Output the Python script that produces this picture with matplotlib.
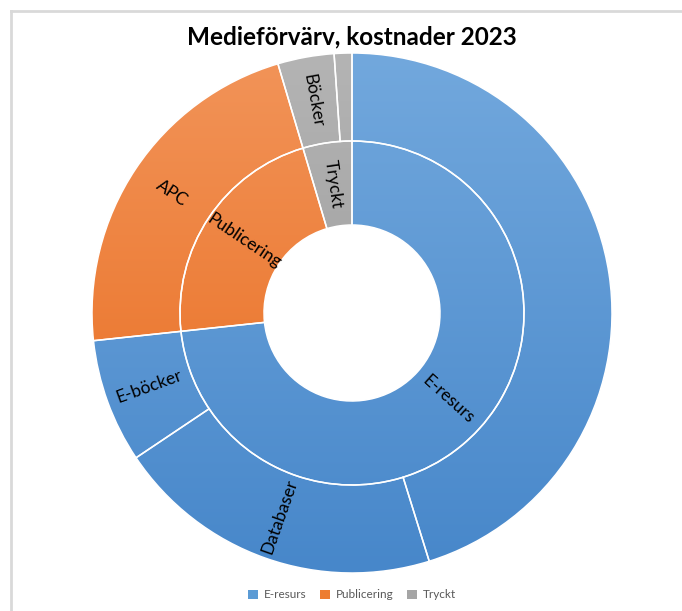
import numpy as np
import matplotlib.pyplot as plt
from matplotlib.patches import Wedge, Patch
from matplotlib.colors import to_rgb

# data (andel i procent)
inner_labels = ['E-resurs', 'Publicering', 'Tryckt']
outer_labels = ['', 'Databaser', 'E-böcker', 'APC', 'Böcker', '']
outer_values = [45.2, 20.4, 7.7, 22.1, 3.5, 1.1]
outer_parent = [0, 0, 0, 1, 2, 2]

inner_values = [sum(v for v, p in zip(outer_values, outer_parent) if p == i)
                for i in range(len(inner_labels))]

# gradient colours per group (top, bottom)
grad = [('#72A8DD', '#4787CA'), ('#F29459', '#E8691A'), ('#B4B4B4', '#939393')]
legend_cols = ['#5B9BD5', '#ED7D31', '#A5A5A5']

W, H = 682, 611
fig = plt.figure(figsize=(W / 100, H / 100), dpi=100)
ax = fig.add_axes([0, 0, 1, 1])
ax.set_xlim(0, W)
ax.set_ylim(0, H)
ax.axis('off')

cx, cy = 352, H - 313
r_hole, r_mid, r_out = 88, 172, 260


def gradient_img(c_top, c_bot, n=256):
    t = np.linspace(0, 1, n)[:, None]
    a, b = np.array(to_rgb(c_top)), np.array(to_rgb(c_bot))
    return (a * (1 - t) + b * t)[:, None, :]


def draw_ring(values, groups, labels, r_in, r_o):
    total = sum(outer_values)
    start = 0.0
    for v, g, lab in zip(values, groups, labels):
        end = start + v
        t1 = 90 - 360 * end / total
        t2 = 90 - 360 * start / total
        w = Wedge((cx, cy), r_o, t1, t2, width=r_o - r_in,
                  facecolor='none', edgecolor='none')
        ax.add_patch(w)
        im = ax.imshow(gradient_img(*grad[g]), extent=(cx - r_out, cx + r_out, cy - r_out, cy + r_out),
                       origin='upper', aspect='auto', zorder=1, interpolation='bilinear')
        im.set_clip_path(w)
        edge = Wedge((cx, cy), r_o, t1, t2, width=r_o - r_in,
                     facecolor='none', edgecolor='white', linewidth=1.1, zorder=2)
        ax.add_patch(edge)
        if lab:
            mid = np.deg2rad((t1 + t2) / 2)
            rr = (r_in + r_o) / 2
            rot = np.rad2deg(mid) % 360
            if 90 < rot < 270:
                rot -= 180
            ax.text(cx + rr * np.cos(mid), cy + rr * np.sin(mid), lab,
                    rotation=rot, rotation_mode='anchor', ha='center', va='center',
                    fontsize=12.5, family='Lato', color='black', zorder=3)
        start = end


draw_ring(inner_values, [0, 1, 2], inner_labels, r_hole, r_mid)
draw_ring(outer_values, outer_parent, outer_labels, r_mid, r_out)

ax.set_xlim(0, W)
ax.set_ylim(0, H)

fig.text(352 / W, 1 - 37 / H, 'Medieförvärv, kostnader 2023', ha='center', va='center',
         fontsize=17.5, fontweight='bold', family='Lato')

handles = [Patch(facecolor=c, edgecolor='none') for c in legend_cols]
fig.legend(handles, inner_labels, loc='center', bbox_to_anchor=(352 / W, 1 - 595 / H),
           ncol=3, frameon=False, handlelength=0.8, handleheight=0.8,
           handletextpad=0.5, columnspacing=1.2, labelcolor='#595959',
           prop={'family': 'Lato', 'size': 8.5})

# chart frame (top and left edges visible)
fig.add_artist(plt.Line2D([11 / W, 1], [1 - 11 / H, 1 - 11 / H], color='#D9D9D9', lw=2,
                          transform=fig.transFigure))
fig.add_artist(plt.Line2D([11 / W, 11 / W], [0, 1 - 11 / H], color='#D9D9D9', lw=2,
                          transform=fig.transFigure))

fig.savefig('out.png', dpi=100)
